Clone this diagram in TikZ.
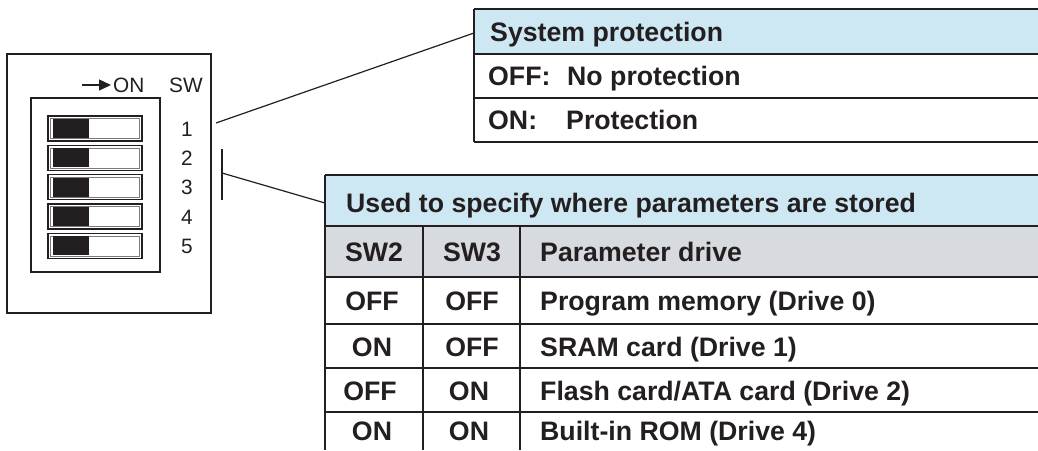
\documentclass[tikz,border=0pt]{standalone}
\usepackage{fontspec}
\setmainfont{Liberation Sans}
\usetikzlibrary{arrows.meta}
\definecolor{ink}{HTML}{231F20}
\definecolor{hdrblue}{HTML}{CDE8F3}
\definecolor{hdrgray}{HTML}{D7DADE}
\tikzset{
  rule/.style={draw=ink, line width=1.6pt},
  thin/.style={draw=ink, line width=1.2pt},
  btxt/.style={inner sep=0pt, anchor=base west, text=ink, font=\fontsize{26.7}{30}\selectfont\bfseries},
  ctxt/.style={inner sep=0pt, anchor=base, text=ink, font=\fontsize{26.7}{30}\selectfont\bfseries},
  rtxt/.style={inner sep=0pt, anchor=base west, text=ink, font=\fontsize{20.8}{24}\selectfont},
  ntxt/.style={inner sep=0pt, anchor=base, text=ink, font=\fontsize{20.8}{24}\selectfont},
}
\begin{document}
\begin{tikzpicture}[x=1pt,y=-1pt]
\useasboundingbox (0,0) rectangle (1038,450);
\fill[white] (0,0) rectangle (1038,450);

% ---------- DIP switch block ----------
\draw[thin] (7,54) rectangle (211,313);
\draw[thin] (31,98) rectangle (160,272);
\node[rtxt] (onlbl) at (113,92) {ON};
\node[rtxt] (swlbl) at (169,92) {SW};
\coordinate (arrs) at (82,85);
\draw[ink, line width=1.4pt, -{Triangle[length=12pt,width=11pt]}, shorten >=2pt] (arrs) -- (onlbl.west |- arrs);
\foreach \i/\t in {1/116,2/145.3,3/174.6,4/204,5/233.3}{
  \draw[ink, line width=1.4pt] (48,\t) rectangle (142,\t+25);
  \draw[ink!60, line width=0.6pt] (50.5,\t+2.5) rectangle (139.5,\t+22.5);
  \fill[ink] (53,\t+3) rectangle (89,\t+22);
  \node[ntxt] (n\i) at (187,\t+20) {\i};
}

% ---------- connectors ----------
\coordinate (c1) at (216,123);
\coordinate (t1) at (474,33);
\draw[thin] (c1) -- (t1);
\coordinate (bt) at (222,149);
\coordinate (bb) at (222,200);
\coordinate (bm) at (222,173);
\coordinate (t2) at (325,203);
\draw[thin] (bt) -- (bb);
\draw[thin] (bm) -- (t2);

% ---------- top table ----------
\fill[hdrblue] (474,9) rectangle (1038,54);
\draw[rule] (474,9) -- (1038,9);
\draw[rule] (474,54) -- (1038,54);
\draw[rule] (474,98) -- (1038,98);
\draw[rule] (474,142) -- (1038,142);
\draw[rule] (474,9) -- (474,142);
\node[btxt] (sp) at (490,41) {System protection};
\node[btxt] (offk) at (488,85.5) {OFF:};
\node[btxt] (offv) at (567,85.5) {No protection};
\node[btxt] (onk) at (488,129.5) {ON:};
\node[btxt] (onv) at (566,129.5) {Protection};

% ---------- bottom table ----------
\fill[hdrblue] (325,175) rectangle (1038,226);
\fill[hdrgray] (325,226) rectangle (1038,277);
\foreach \y in {175,226,277,324,368,412}{
  \draw[rule] (325,\y) -- (1038,\y);
}
\draw[rule] (325,175) -- (325,450);
\draw[rule] (423,226) -- (423,450);
\draw[rule] (520,226) -- (520,450);
\node[btxt] (hd) at (346,212.5) {Used to specify where parameters are stored};
\node[ctxt] (h1) at (374,261) {SW2};
\node[ctxt] (h2) at (472,261) {SW3};
\node[btxt] (h3) at (540,261) {Parameter drive};
\node[ctxt] (r1a) at (372,310) {OFF};
\node[ctxt] (r1b) at (472,310) {OFF};
\node[btxt] (r1c) at (540,310) {Program memory (Drive 0)};
\node[ctxt] (r2a) at (372,356) {ON};
\node[ctxt] (r2b) at (472,356) {OFF};
\node[btxt] (r2c) at (540,356) {SRAM card (Drive 1)};
\node[ctxt] (r3a) at (370,400) {OFF};
\node[ctxt] (r3b) at (469,400) {ON};
\node[btxt] (r3c) at (540,400) {Flash card/ATA card (Drive 2)};
\node[ctxt] (r4a) at (372,440.5) {ON};
\node[ctxt] (r4b) at (469,440.5) {ON};
\node[btxt] (r4c) at (540,440.5) {Built-in ROM (Drive 4)};
\end{tikzpicture}
\end{document}
